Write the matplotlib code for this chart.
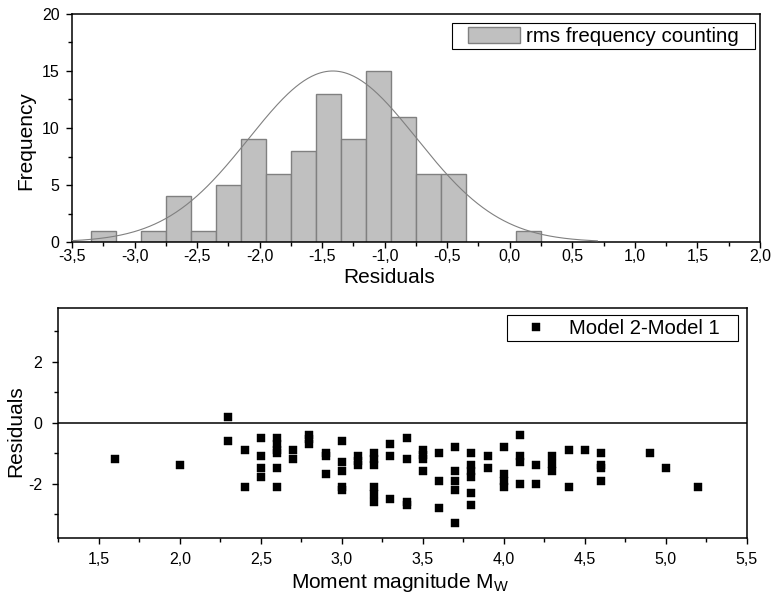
import matplotlib
matplotlib.use("Agg")
import matplotlib.pyplot as plt
import numpy as np
from matplotlib.patches import Rectangle
from matplotlib.ticker import FixedLocator

plt.rcParams["font.family"] = ["Liberation Sans", "DejaVu Sans"]
plt.rcParams["mathtext.fontset"] = "custom"
plt.rcParams["mathtext.rm"] = "Liberation Sans"
plt.rcParams["mathtext.it"] = "Liberation Sans:italic"

# ---- residual histogram (0.2 wide bins) ----
hist_bin_centers = [-3.25, -3.05, -2.85, -2.65, -2.45, -2.25, -2.05, -1.85, -1.65,
                    -1.45, -1.25, -1.05, -0.85, -0.65, -0.45, -0.25, -0.05, 0.15]
hist_counts = [1, 0, 1, 4, 1, 5, 9, 6, 8, 13, 9, 15, 11, 6, 6, 0, 0, 1]
hist_bin_width = 0.2

# fitted normal curve
fit_center = -1.415
fit_sigma = 0.67
fit_peak = 15.0
fit_range = (-3.5, 0.7)

hist_xticks = [-3.5, -3.0, -2.5, -2.0, -1.5, -1.0, -0.5, 0.0, 0.5, 1.0, 1.5, 2.0]
hist_xticklabels = ["-3,5", "-3,0", "-2,5", "-2,0", "-1,5", "-1,0", "-0,5",
                    "0,0", "0,5", "1,0", "1,5", "2,0"]
hist_yticks = [0, 5, 10, 15, 20]
hist_yticklabels = ["0", "5", "10", "15", "20"]

# ---- residuals versus moment magnitude ----
mw = [1.6, 2.0,
      2.3, 2.3,
      2.4, 2.4,
      2.5, 2.5, 2.5, 2.5,
      2.6, 2.6, 2.6, 2.6, 2.6, 2.6,
      2.7, 2.7,
      2.8, 2.8, 2.8,
      2.9, 2.9, 2.9,
      3.0, 3.0, 3.0, 3.0, 3.0,
      3.1, 3.1, 3.1,
      3.2, 3.2, 3.2, 3.2, 3.2, 3.2,
      3.3, 3.3, 3.3,
      3.4, 3.4, 3.4, 3.4,
      3.5, 3.5, 3.5, 3.5,
      3.6, 3.6, 3.6,
      3.7, 3.7, 3.7, 3.7, 3.7,
      3.8, 3.8, 3.8, 3.8, 3.8, 3.8,
      3.9, 3.9,
      4.0, 4.0, 4.0, 4.0,
      4.1, 4.1, 4.1, 4.1,
      4.2, 4.2,
      4.3, 4.3, 4.3,
      4.4, 4.4,
      4.5,
      4.6, 4.6, 4.6, 4.6,
      4.9, 5.0, 5.2]
residuals = [-1.2, -1.4,
             0.2, -0.6,
             -0.9, -2.1,
             -0.5, -1.1, -1.5, -1.8,
             -0.5, -0.7, -0.9, -1.0, -1.5, -2.1,
             -0.9, -1.2,
             -0.4, -0.55, -0.7,
             -1.0, -1.1, -1.7,
             -0.6, -1.3, -1.6, -2.1, -2.2,
             -1.1, -1.25, -1.4,
             -1.0, -1.2, -1.4, -2.1, -2.35, -2.6,
             -0.7, -1.1, -2.5,
             -0.5, -1.2, -2.6, -2.7,
             -0.9, -1.05, -1.2, -1.6,
             -1.0, -1.9, -2.8,
             -0.8, -1.6, -1.9, -2.2, -3.3,
             -1.0, -1.4, -1.6, -1.8, -2.3, -2.7,
             -1.1, -1.5,
             -0.8, -1.7, -1.9, -2.1,
             -0.4, -1.1, -1.3, -2.0,
             -1.4, -2.0,
             -1.1, -1.35, -1.6,
             -0.9, -2.1,
             -0.9,
             -1.0, -1.4, -1.5, -1.9,
             -1.0, -1.5, -2.1]

res_xticks = [1.5, 2.0, 2.5, 3.0, 3.5, 4.0, 4.5, 5.0, 5.5]
res_xticklabels = ["1,5", "2,0", "2,5", "3,0", "3,5", "4,0", "4,5", "5,0", "5,5"]
res_yticks = [-2, 0, 2]
res_yticklabels = ["-2", "0", "2"]

LABEL_FS = 15
TICK_FS = 11.5
SPINE_LW = 1.1

fig = plt.figure(figsize=(7.73, 5.98), dpi=100)
ax1 = fig.add_axes([0.0931, 0.5953, 0.8900, 0.3813])
ax2 = fig.add_axes([0.0754, 0.0998, 0.8906, 0.3846])


def style_axes(ax, xpad, ypad):
    for sp in ax.spines.values():
        sp.set_linewidth(SPINE_LW)
    ax.tick_params(which="major", direction="out", length=4.5, width=1.0,
                   labelsize=TICK_FS, top=False, right=False)
    ax.tick_params(which="minor", direction="out", length=3.0, width=1.0,
                   top=False, right=False)
    ax.tick_params(axis="x", which="major", pad=xpad)
    ax.tick_params(axis="y", which="major", pad=ypad)


# ---- top panel ----
bars = ax1.bar(hist_bin_centers, hist_counts, width=hist_bin_width,
               color="#c0c0c0", edgecolor="#808080", linewidth=1.0, zorder=2)
xs = np.linspace(fit_range[0], fit_range[1], 400)
ax1.plot(xs, fit_peak * np.exp(-0.5 * ((xs - fit_center) / fit_sigma) ** 2),
         color="#808080", linewidth=0.8, zorder=3)

ax1.set_xlim(-3.5, 2.0)
ax1.set_ylim(0, 20)
ax1.xaxis.set_major_locator(FixedLocator(hist_xticks))
ax1.set_xticklabels(hist_xticklabels)
ax1.xaxis.set_minor_locator(FixedLocator(np.arange(-3.25, 2.0, 0.5)))
ax1.yaxis.set_major_locator(FixedLocator(hist_yticks))
ax1.set_yticklabels(hist_yticklabels)
ax1.yaxis.set_minor_locator(FixedLocator([2.5, 7.5, 12.5, 17.5]))
style_axes(ax1, 0.5, 4.5)

ax1.set_xlabel("Residuals", fontsize=LABEL_FS, va="center")
ax1.xaxis.set_label_coords(0.461, -0.155)
ax1.set_ylabel("Frequency", fontsize=LABEL_FS, va="center")
ax1.yaxis.set_label_coords(-0.067, 0.447)

ax1.legend(handles=[bars], labels=["rms frequency counting"],
           loc="center left", bbox_to_anchor=(0.576, 0.902), frameon=False,
           fontsize=14.8, handlelength=2.52, handleheight=0.83,
           handletextpad=0.3, borderpad=0, borderaxespad=0)
ax1.add_patch(Rectangle((0.5528, 0.845), 0.4399, 0.114, transform=ax1.transAxes,
                        fill=False, edgecolor="black", linewidth=0.8, zorder=5))

# ---- bottom panel ----
ax2.axhline(0, color="black", linewidth=SPINE_LW, zorder=2)
pts, = ax2.plot(mw, residuals, linestyle="none", marker="s", markersize=6.2,
                markerfacecolor="black", markeredgecolor="black",
                markeredgewidth=0.3, zorder=3)

ax2.set_xlim(1.25, 5.5)
ax2.set_ylim(-3.8, 3.76)
ax2.xaxis.set_major_locator(FixedLocator(res_xticks))
ax2.set_xticklabels(res_xticklabels)
ax2.xaxis.set_minor_locator(FixedLocator(np.arange(1.25, 5.5, 0.5)))
ax2.yaxis.set_major_locator(FixedLocator(res_yticks))
ax2.set_yticklabels(res_yticklabels)
ax2.yaxis.set_minor_locator(FixedLocator([-3, -1, 1, 3]))
style_axes(ax2, 5.5, 7)

ax2.set_xlabel(r"Moment magnitude M$_\mathrm{W}$", fontsize=LABEL_FS, va="center")
ax2.xaxis.set_label_coords(0.496, -0.19)
ax2.set_ylabel("Residuals", fontsize=LABEL_FS, va="center")
ax2.yaxis.set_label_coords(-0.062, 0.466)

ax2.legend(handles=[pts], labels=["Model 2-Model 1"], loc="center left",
           bbox_to_anchor=(0.6707, 0.914), frameon=False, numpoints=1,
           fontsize=14.6, handlelength=1.58, handletextpad=0.86,
           borderpad=0, borderaxespad=0)
ax2.add_patch(Rectangle((0.6514, 0.858), 0.3364, 0.113, transform=ax2.transAxes,
                        fill=False, edgecolor="black", linewidth=0.8, zorder=5))

fig.savefig("out.png", dpi=100)
